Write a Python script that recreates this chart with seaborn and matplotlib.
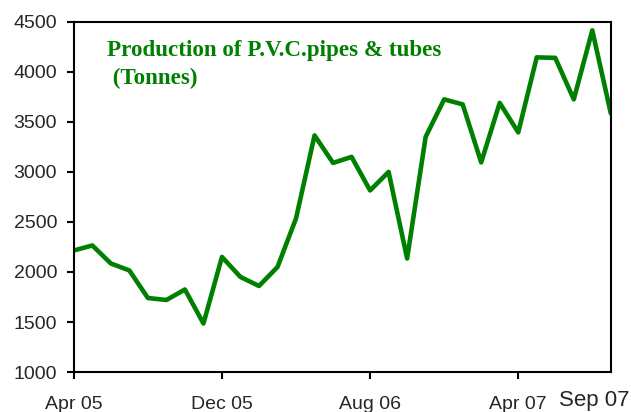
import matplotlib
matplotlib.use('Agg')
import matplotlib.pyplot as plt
import seaborn as sns
import pandas as pd

# ── Data ───────────────────────────────────────────────────────────────────
months = ['Apr 05', 'May 05', 'Jun 05', 'Jul 05', 'Aug 05', 'Sep 05', 'Oct 05', 'Nov 05',
          'Dec 05', 'Jan 06', 'Feb 06', 'Mar 06', 'Apr 06', 'May 06', 'Jun 06', 'Jul 06',
          'Aug 06', 'Sep 06', 'Oct 06', 'Nov 06', 'Dec 06', 'Jan 07', 'Feb 07', 'Mar 07',
          'Apr 07', 'May 07', 'Jun 07', 'Jul 07', 'Aug 07', 'Sep 07']
production = [2215, 2265, 2085, 2015, 1740, 1720, 1825, 1485,
              2150, 1950, 1860, 2050, 2535, 3365, 3090, 3150,
              2815, 3000, 2135, 3350, 3725, 3675, 3095, 3690,
              3395, 4145, 4140, 3725, 4415, 3585]
tick_labels = ['Apr 05', 'Dec 05', 'Aug 06', 'Apr 07']
y_ticks = [1000, 1500, 2000, 2500, 3000, 3500, 4000, 4500]

df = pd.DataFrame({'idx': range(len(months)), 'month': months, 'tonnes': production})

# ── Plot ───────────────────────────────────────────────────────────────────
sns.set_style('ticks')
plt.rcParams['font.family'] = ['Liberation Sans', 'DejaVu Sans']

fig = plt.figure(figsize=(6.31, 4.12), dpi=100)
ax = fig.add_axes([0.117, 0.097, 0.851, 0.850])
sns.lineplot(data=df, x='idx', y='tonnes', color='#008000', linewidth=3.3, ax=ax)

ax.set_xlim(0, len(months) - 1)
ax.set_ylim(1000, 4500)
ax.set_yticks(y_ticks)
ax.set_xticks([months.index(m) for m in tick_labels])
ax.set_xticklabels(tick_labels)
ax.tick_params(axis='y', labelsize=14, length=5, width=1.5, pad=7, color='black')
ax.tick_params(axis='x', labelsize=14, length=5, width=1.5, pad=12, color='black')
ax.set_xlabel('')
ax.set_ylabel('')
for s in ax.spines.values():
    s.set_visible(True)
    s.set_linewidth(1.5)
    s.set_color('black')

# last month label sits apart, slightly larger
ax.text(1.035, -0.05, months[-1], transform=ax.transAxes, fontsize=16,
        ha='right', va='top')

ax.text(0.062, 0.948, 'Production of P.V.C.pipes & tubes\n (Tonnes)', transform=ax.transAxes,
        fontsize=16.6, fontweight='bold', color='#008000', family='Liberation Serif',
        ha='left', va='top', linespacing=1.45)

fig.savefig('out.png', dpi=100)
